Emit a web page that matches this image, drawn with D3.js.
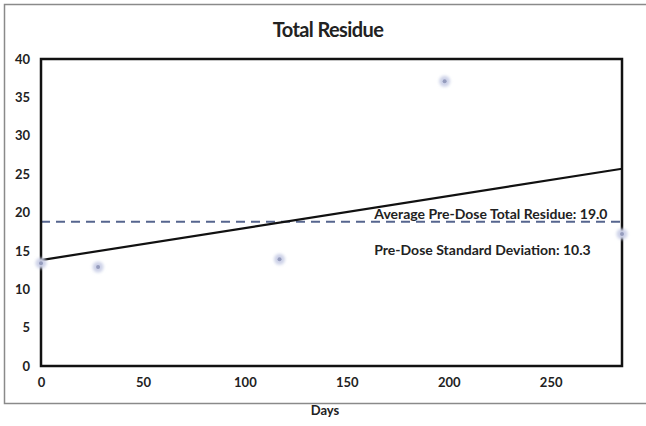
<!DOCTYPE html>
<html>
<head>
<meta charset="utf-8">
<script src="https://cdn.jsdelivr.net/npm/d3@7"></script>
<style>
body{margin:0;background:#fff;}
text{font-family:Lato,"Open Sans",sans-serif;font-weight:bold;fill:#222;}
</style>
</head>
<body>
<script>
// scatter of residue vs days, with trend + pre-dose average
var days = [0, 28, 117, 198, 285];
var residue = [13.4, 12.9, 13.9, 37.1, 17.2];
var trendDays = [0, 285];
var trendVals = [13.8, 25.7];
var avgValue = 18.8;
var xTicks = [0, 50, 100, 150, 200, 250];
var yTicks = [0, 5, 10, 15, 20, 25, 30, 35, 40];
var notes = ["Average Pre-Dose Total Residue: 19.0", "Pre-Dose Standard Deviation: 10.3"];

var width = 646, height = 426;
var margin = {left:41, right:24, top:59, bottom:60};
var w = width - margin.left - margin.right;
var h = height - margin.top - margin.bottom;

var svg = d3.select("body").append("svg").attr("width", width).attr("height", height);

var defs = svg.append("defs");
defs.append("filter").attr("id","glow").attr("x","-100%").attr("y","-100%").attr("width","300%").attr("height","300%")
  .append("feGaussianBlur").attr("stdDeviation", 1.8);

// outer frame (right side runs off the picture)
svg.append("rect").attr("x",4.5).attr("y",4.5).attr("width",700).attr("height",399)
  .attr("fill","none").attr("stroke","#8a8a8a").attr("stroke-width",1.5);

svg.append("text").attr("x",328).attr("y",37).attr("text-anchor","middle")
  .style("font-size","20px").style("letter-spacing","-0.6px").text("Total Residue");

var x = d3.scaleLinear().domain([0, 285]).range([0, w]);
var y = d3.scaleLinear().domain([0, 40]).range([h, 0]);

var g = svg.append("g").attr("transform","translate("+margin.left+","+margin.top+")");

var xAxis = g.append("g").attr("transform","translate(0,"+h+")")
  .call(d3.axisBottom(x).tickValues(xTicks).tickSize(0).tickPadding(12));
var yAxis = g.append("g").call(d3.axisLeft(y).tickValues(yTicks).tickSize(0).tickPadding(11));
[xAxis, yAxis].forEach(function(a){
  a.select(".domain").remove();
  a.selectAll("text").style("font-family","Lato,sans-serif").style("font-size","13px").style("font-weight","bold").attr("fill","#1a1a1a");
});

svg.append("text").attr("x",325).attr("y",415).attr("text-anchor","middle")
  .style("font-size","13px").text("Days");

// average line
g.append("line").attr("x1",x(0)).attr("x2",x(285)).attr("y1",y(avgValue)).attr("y2",y(avgValue))
  .attr("stroke","#56658e").attr("stroke-width",2).attr("stroke-dasharray","9,6");

// trend line
var line = d3.line().x(function(d,i){ return x(trendDays[i]); }).y(function(d){ return y(d); });
g.append("path").attr("d", line(trendVals)).attr("fill","none").attr("stroke","#111").attr("stroke-width",2.2);

// plot border
g.append("rect").attr("x",0).attr("y",0).attr("width",w).attr("height",h)
  .attr("fill","none").attr("stroke","#111").attr("stroke-width",2.5);

// points
var pts = g.selectAll(".pt").data(residue).enter().append("g");
pts.append("circle").attr("cx",function(d,i){ return x(days[i]); }).attr("cy",function(d){ return y(d); })
  .attr("r",5.5).attr("fill","#cdd2e8").attr("filter","url(#glow)");
pts.append("circle").attr("cx",function(d,i){ return x(days[i]); }).attr("cy",function(d){ return y(d); })
  .attr("r",2).attr("fill","#959cbd");

g.selectAll(".note").data(notes).enter().append("text")
  .attr("x",x(163.5)).attr("y",function(d,i){ return y(avgValue) - 3 + i*36; })
  .style("font-size","14px").text(function(d){ return d; });
</script>
</body>
</html>
